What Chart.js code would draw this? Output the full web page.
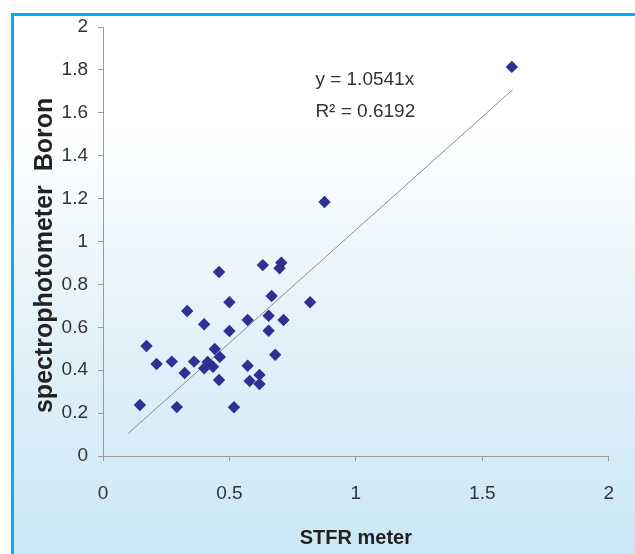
<!DOCTYPE html>
<html>
<head>
<meta charset="utf-8">
<script src="https://cdn.jsdelivr.net/npm/chart.js@4/dist/chart.umd.min.js"></script>
<style>
  html, body { margin: 0; padding: 0; background: #fff; }
  body { width: 635px; height: 554px; position: relative; overflow: hidden; }
  #caixa {
    position: absolute; left: 11px; top: 13px; width: 640px; height: 560px;
    border-top: 3px solid #00aeef; border-left: 3px solid #00aeef;
    background: linear-gradient(to bottom, #ffffff 0%, #ffffff 20%, #e4f2fa 55%, #c9e6f6 100%);
  }
  #grafico { position: absolute; left: 0; top: 0; }
</style>
</head>
<body>
<div id="caixa"></div>
<canvas id="grafico" width="635" height="554"></canvas>
<script>
// === Dados ===
const stfr = [1.617, 0.876, 0.459, 0.632, 0.705, 0.698, 0.667, 0.819, 0.500, 0.333,
              0.400, 0.572, 0.655, 0.714, 0.500, 0.655, 0.172, 0.212, 0.272, 0.323,
              0.360, 0.400, 0.435, 0.442, 0.462, 0.459, 0.572, 0.580, 0.619, 0.619,
              0.681, 0.146, 0.292, 0.518, 0.414];
const espectro = [1.814, 1.184, 0.858, 0.890, 0.901, 0.875, 0.746, 0.717, 0.717, 0.676,
                  0.614, 0.634, 0.654, 0.634, 0.583, 0.584, 0.513, 0.429, 0.440, 0.387,
                  0.440, 0.409, 0.416, 0.499, 0.462, 0.354, 0.421, 0.350, 0.378, 0.336,
                  0.472, 0.238, 0.228, 0.227, 0.438];
const tendenciaX = [0.1, 1.62];
const inclinacao = 1.0541;
const equacao = ["y = 1.0541x", "R² = 0.6192"];
const ticksX = [0, 0.5, 1, 1.5, 2];
const ticksY = [0, 0.2, 0.4, 0.6, 0.8, 1, 1.2, 1.4, 1.6, 1.8, 2];

const pontos = stfr.map((x, i) => ({ x, y: espectro[i] }));
const linha = tendenciaX.map(x => ({ x, y: inclinacao * x }));

const fonte = "'Liberation Sans', Arial, sans-serif";

// texto da equação
const pluginEquacao = {
  id: 'equacao',
  afterDatasetsDraw(chart) {
    const ctx = chart.ctx;
    const px = chart.scales.x.getPixelForValue(0.84);
    const py = chart.scales.y.getPixelForValue(1.755);
    ctx.save();
    ctx.font = "19px " + fonte;
    ctx.fillStyle = '#333';
    ctx.textBaseline = 'middle';
    ctx.fillText(equacao[0], px, py);
    ctx.fillText(equacao[1], px, py + 32);
    ctx.restore();
  }
};

const ctx = document.getElementById('grafico').getContext('2d');
new Chart(ctx, {
  type: 'scatter',
  data: {
    datasets: [
      {
        data: pontos,
        pointStyle: 'rectRot',
        pointRadius: 6.2,
        backgroundColor: '#2e3192',
        borderColor: '#2e3192',
        borderWidth: 0
      },
      {
        type: 'line',
        data: linha,
        borderColor: '#8a8a8a',
        borderWidth: 1,
        pointRadius: 0,
        fill: false
      }
    ]
  },
  options: {
    responsive: false,
    animation: false,
    layout: { padding: { top: 27, right: 16, left: 0, bottom: 0 } },
    plugins: { legend: { display: false }, tooltip: { enabled: false } },
    scales: {
      x: {
        type: 'linear', min: 0, max: 2,
        afterBuildTicks: s => { s.ticks = ticksX.map(v => ({ value: v })); },
        afterFit: s => { s.height = 98; },
        grid: { drawOnChartArea: false, tickLength: 5, color: '#999' },
        border: { color: '#999' },
        ticks: { color: '#333', padding: 21, font: { family: fonte, size: 19 }, maxRotation: 0,
                 callback: v => String(v) },
        title: { display: true, text: 'STFR meter', color: '#222', padding: { top: 8 },
                 font: { family: fonte, size: 20, weight: 'bold' } }
      },
      y: {
        type: 'linear', min: 0, max: 2,
        afterBuildTicks: s => { s.ticks = ticksY.map(v => ({ value: v })); },
        afterFit: s => { s.width = 103; },
        grid: { drawOnChartArea: false, tickLength: 5, color: '#999' },
        border: { color: '#999' },
        ticks: { color: '#333', padding: 10, font: { family: fonte, size: 19 },
                 callback: v => String(v) },
        title: { display: true, text: 'spectrophotometer  Boron    ', color: '#222', padding: { top: 30, bottom: 0 },
                 font: { family: fonte, size: 25, weight: 'bold' } }
      }
    }
  },
  plugins: [pluginEquacao]
});
</script>
</body>
</html>
